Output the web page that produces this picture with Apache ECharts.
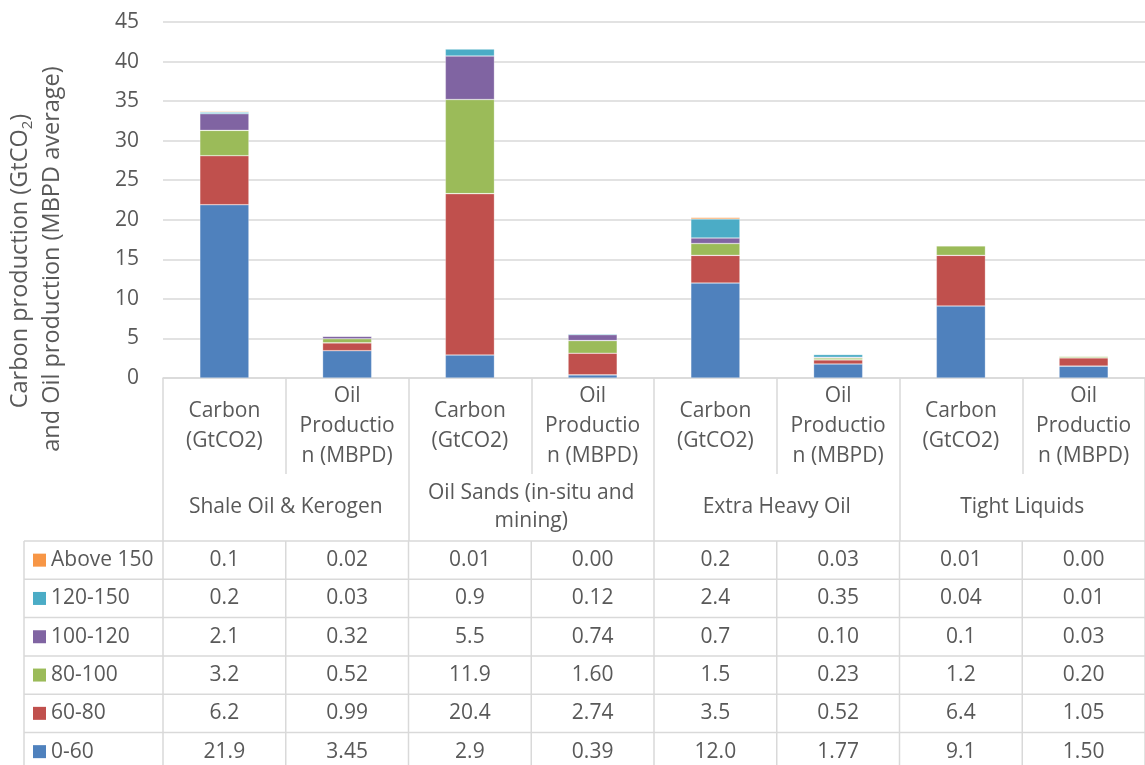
<!DOCTYPE html>
<html>
<head>
<meta charset="utf-8">
<title>Carbon and oil production by cost band</title>
<script src="https://cdn.jsdelivr.net/npm/echarts@6/dist/echarts.min.js"></script>
<style>
  html, body { margin: 0; padding: 0; background: #fff; }
  #chart { width: 1145px; height: 765px; }
</style>
</head>
<body>
<div id="chart"></div>
<script>
// Inner categories (two measures per resource group)
const categories = [
  'Carbon\n(GtCO2)', 'Oil\nProductio\nn (MBPD)',
  'Carbon\n(GtCO2)', 'Oil\nProductio\nn (MBPD)',
  'Carbon\n(GtCO2)', 'Oil\nProductio\nn (MBPD)',
  'Carbon\n(GtCO2)', 'Oil\nProductio\nn (MBPD)'
];
// Outer resource groups
const groups = [
  'Shale Oil & Kerogen',
  'Oil Sands (in-situ and\nmining)',
  'Extra Heavy Oil',
  'Tight Liquids'
];
// Cost bands (series names), bottom of the stack first
const bandNames = ['0-60', '60-80', '80-100', '100-120', '120-150', 'Above 150'];
const bandColors = ['#4F81BD', '#C0504D', '#9BBB59', '#8064A2', '#4BACC6', '#F79646'];

// Values as printed in the data table; bars use the same numbers
const band0to60    = ['21.9', '3.45', '2.9',  '0.39', '12.0', '1.77', '9.1',  '1.50'];
const band60to80   = ['6.2',  '0.99', '20.4', '2.74', '3.5',  '0.52', '6.4',  '1.05'];
const band80to100  = ['3.2',  '0.52', '11.9', '1.60', '1.5',  '0.23', '1.2',  '0.20'];
const band100to120 = ['2.1',  '0.32', '5.5',  '0.74', '0.7',  '0.10', '0.1',  '0.03'];
const band120to150 = ['0.2',  '0.03', '0.9',  '0.12', '2.4',  '0.35', '0.04', '0.01'];
const bandAbove150 = ['0.1',  '0.02', '0.01', '0.00', '0.2',  '0.03', '0.01', '0.00'];
const bandValues = [band0to60, band60to80, band80to100, band100to120, band120to150, bandAbove150];

// Value axis ticks
const yMin = 0, yMax = 45, yStep = 5;

const FONT = 'Open Sans';
const TEXT = '#595959';
const LINE = '#d9d9d9';
const FS = 21;
const TITLE_FS = 23.5;

const chart = echarts.init(document.getElementById('chart'), null, { renderer: 'canvas' });

const gridBox = { left: 163, top: 22, width: 992, height: 356 };

chart.setOption({
  animation: false,
  textStyle: { fontFamily: FONT },
  grid: [
    Object.assign({ containLabel: false }, gridBox),
    Object.assign({ containLabel: false }, gridBox)
  ],
  xAxis: [
    {
      type: 'category', gridIndex: 0, data: categories, position: 'bottom',
      boundaryGap: true,
      axisLine: { show: true, lineStyle: { color: LINE, width: 1.5 } },
      axisTick: { show: true, interval: 0, length: 96, lineStyle: { color: LINE, width: 1.5 } },
      axisLabel: {
        interval: 0, margin: 48, verticalAlign: 'middle', lineHeight: 30,
        fontSize: FS, color: TEXT, fontFamily: FONT
      },
      splitLine: { show: false }
    },
    {
      type: 'category', gridIndex: 1, data: groups, position: 'bottom',
      boundaryGap: true,
      axisLine: { show: false },
      axisTick: { show: true, interval: 0, length: 163, lineStyle: { color: LINE, width: 1.5 } },
      axisLabel: {
        interval: 0, margin: 129, verticalAlign: 'middle', lineHeight: 28,
        fontSize: FS, color: TEXT, fontFamily: FONT
      },
      splitLine: { show: false }
    }
  ],
  yAxis: [
    {
      type: 'value', gridIndex: 0, min: yMin, max: yMax, interval: yStep,
      axisLine: { show: false }, axisTick: { show: false },
      axisLabel: { fontSize: FS, color: TEXT, margin: 24, fontFamily: FONT },
      splitLine: { show: true, lineStyle: { color: LINE, width: 1.5 } }
    },
    {
      type: 'value', gridIndex: 1, min: yMin, max: yMax, interval: yStep, show: false,
      splitLine: { show: false }
    }
  ],
  series: bandNames.map((name, k) => ({
    name: name,
    type: 'bar',
    stack: 'total',
    xAxisIndex: 0,
    yAxisIndex: 0,
    barWidth: '40%',
    itemStyle: { color: bandColors[k], borderColor: 'rgba(255,255,255,0.45)', borderWidth: 0.6 },
    data: bandValues[k].map(Number)
  }))
});

// Axis title and the data table below the category labels
function buildOverlay() {
  const centers = categories.map((c, i) => chart.convertToPixel({ xAxisIndex: 0 }, i));
  const band = centers[1] - centers[0];
  const bounds = [centers[0] - band / 2].concat(centers.map(c => c + band / 2));
  const rightEdge = bounds[bounds.length - 1];

  const tableTop = 541;
  const rowH = 38.3;
  const legendLeft = 24;
  const rowsTopDown = bandNames.map((n, k) => k).reverse();
  const tableBottom = tableTop + rowsTopDown.length * rowH;

  const els = [];
  const lineStyle = { stroke: LINE, lineWidth: 1.5 };

  // horizontal rules
  for (let r = 0; r <= rowsTopDown.length; r++) {
    const y = tableTop + r * rowH;
    els.push({ type: 'line', shape: { x1: legendLeft, y1: y, x2: rightEdge, y2: y }, style: lineStyle, silent: true });
  }
  // vertical rules
  els.push({ type: 'line', shape: { x1: legendLeft, y1: tableTop, x2: legendLeft, y2: tableBottom }, style: lineStyle, silent: true });
  bounds.forEach(x => {
    els.push({ type: 'line', shape: { x1: x, y1: tableTop, x2: x, y2: tableBottom }, style: lineStyle, silent: true });
  });

  rowsTopDown.forEach((k, r) => {
    const cy = tableTop + r * rowH + rowH / 2;
    els.push({
      type: 'rect', shape: { x: 33, y: cy - 6.5, width: 13, height: 13 },
      style: { fill: bandColors[k] }, silent: true
    });
    els.push({
      type: 'text', x: 51, y: cy,
      style: { text: bandNames[k], fill: TEXT, fontSize: FS, fontFamily: FONT, align: 'left', verticalAlign: 'middle' },
      silent: true
    });
    bandValues[k].forEach((v, i) => {
      els.push({
        type: 'text', x: centers[i], y: cy,
        style: { text: v, fill: TEXT, fontSize: FS, fontFamily: FONT, align: 'center', verticalAlign: 'middle' },
        silent: true
      });
    });
  });

  // rotated value-axis title
  els.push({
    type: 'text', x: 20, y: 261, rotation: Math.PI / 2,
    style: {
      text: '{a|Carbon production (GtCO}{s|2}{a|)}',
      align: 'center', verticalAlign: 'middle',
      rich: {
        a: { fontSize: TITLE_FS, fontFamily: FONT, fill: TEXT, lineHeight: 30 },
        s: { fontSize: 15, fontFamily: FONT, fill: TEXT, lineHeight: 17, verticalAlign: 'bottom' }
      }
    },
    silent: true
  });
  els.push({
    type: 'text', x: 52, y: 259, rotation: Math.PI / 2,
    style: {
      text: 'and Oil production (MBPD average)',
      fill: TEXT, fontSize: TITLE_FS, fontFamily: FONT, align: 'center', verticalAlign: 'middle'
    },
    silent: true
  });

  chart.setOption({ graphic: { elements: els } });
}

buildOverlay();
</script>
</body>
</html>
